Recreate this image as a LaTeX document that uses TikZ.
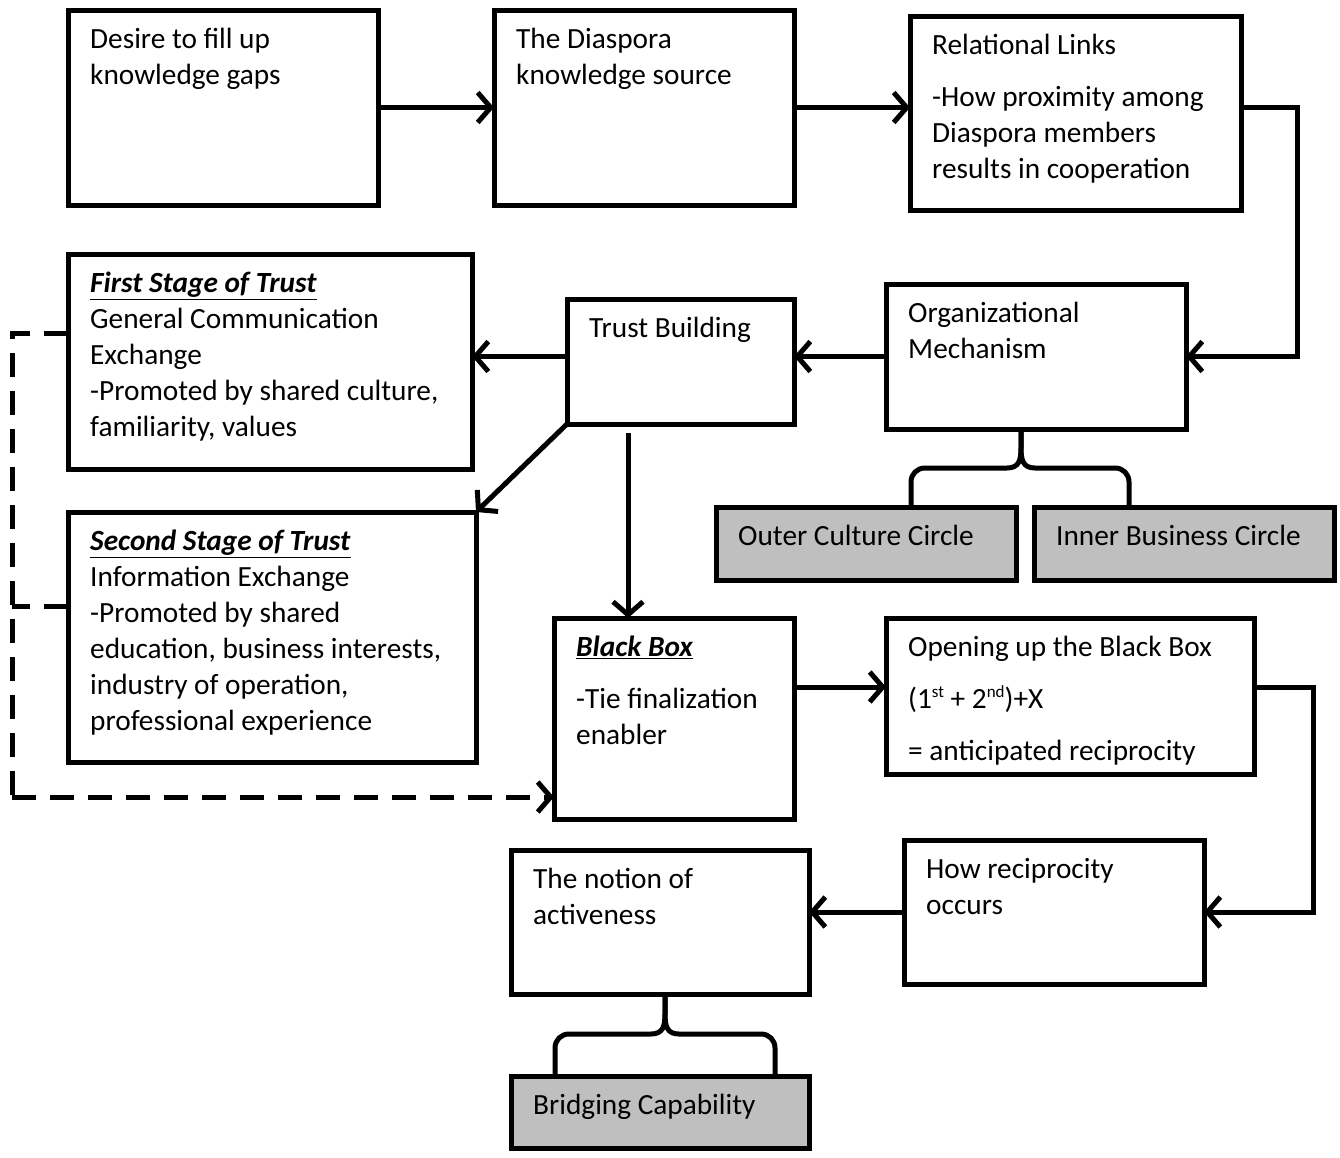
\documentclass[tikz,border=0pt]{standalone}
\usepackage{fontspec}
\setmainfont{Carlito}
\usetikzlibrary{arrows.meta,fit}
\definecolor{boxgray}{HTML}{BFBFBF}
% a framed box spanning two corner points
\newcommand\flowbox[6]{%
  \path (#2,#3) coordinate (#1-nw) (#4,#5) coordinate (#1-se);
  \node[#6, fit=(#1-nw)(#1-se)] (#1) {};}
% the text block sitting in the upper left of a box
\newcommand\boxtext[2]{%
  \node[txt] (#1-t) at ([shift={(22,13)}]#1.north west) {\strut #2};}
% small raised ordinal suffix
\newcommand\ordsup[1]{\raisebox{11pt}{\fontsize{17}{17}\selectfont #1}}
\begin{document}
\begin{tikzpicture}[x=1pt,y=-1pt,
  box/.style={draw, line width=5pt, inner sep=0pt, outer sep=0pt},
  greybox/.style={box, fill=boxgray},
  txt/.style={anchor=north west, inner sep=0pt, align=left, font=\fontsize{29.3}{36}\selectfont},
  tip/.style={-{Straight Barb[length=13pt,width=30pt]}},
  arr/.style={line width=5pt, tip},
  brace/.style={line width=5pt, line join=round},
  dashlink/.style={line width=5pt, dash pattern=on 24pt off 14pt}]
\useasboundingbox (0,0) rectangle (1340,1157);

% boxes
\flowbox{desire}{68}{10}{378}{205}{box}
\flowbox{source}{494}{10}{794}{205}{box}
\flowbox{links}{910}{16}{1241}{210}{box}
\flowbox{first}{68}{254}{472}{469}{box}
\flowbox{trust}{567}{299}{794}{424}{box}
\flowbox{org}{886}{284}{1186}{429}{box}
\flowbox{outer}{716}{507}{1016}{580}{greybox}
\flowbox{inner}{1034}{507}{1334}{580}{greybox}
\flowbox{second}{68}{512}{476}{762}{box}
\flowbox{black}{554}{618}{794}{819}{box}
\flowbox{open}{886}{618}{1254}{774}{box}
\flowbox{how}{904}{840}{1204}{984}{box}
\flowbox{notion}{511}{850}{809}{994}{box}
\flowbox{bridge}{511}{1076}{809}{1148}{greybox}

% texts
\boxtext{desire}{Desire to fill up\\knowledge gaps}
\boxtext{source}{The Diaspora\\knowledge source}
\boxtext{links}{Relational Links\\[16pt]-How proximity among\\Diaspora members\\results in cooperation}
\boxtext{first}{\underline{\textbf{\textit{First Stage of Trust}}}\\General Communication\\Exchange\\-Promoted by shared culture,\\familiarity, values}
\boxtext{trust}{Trust Building}
\boxtext{org}{Organizational\\Mechanism}
\boxtext{outer}{Outer Culture Circle}
\boxtext{inner}{Inner Business Circle}
\boxtext{second}{\underline{\textbf{\textit{Second Stage of Trust}}}\\Information Exchange\\-Promoted by shared\\education, business interests,\\industry of operation,\\professional experience}
\boxtext{black}{\underline{\textbf{\textit{Black Box}}}\\[16pt]-Tie finalization\\enabler}
\boxtext{open}{Opening up the Black Box\\[16pt](1\ordsup{st} + 2\ordsup{nd})+X\\[16pt]= anticipated reciprocity}
\boxtext{how}{How reciprocity\\occurs}
\boxtext{notion}{The notion of\\activeness}
\boxtext{bridge}{Bridging Capability}

% bend points of the connectors
\coordinate (r1) at (1297,107);
\coordinate (r2) at (1313,687);
\coordinate (tb) at (628,433);
\coordinate (d1) at (12,333);
\coordinate (d2) at (12,606);
\coordinate (d3) at (12,797);

% solid connectors
\draw[arr] (desire.east) -- (source.west);
\draw[arr] (source.east) -- (source.east -| links.west);
\draw[arr] (links.east |- r1) -- (r1) -- (r1 |- org.east) -- (org.east);
\draw[arr] (org.west) -- (org.west -| trust.east);
\draw[arr] (org.west -| trust.west) -- (org.west -| first.east);
\draw[arr] (trust.south west) -- (second.north east);
\draw[arr] (tb) -- (tb |- black.north);
\draw[arr] (black.east |- r2) -- (open.west |- r2);
\draw[arr] (open.east |- r2) -- (r2) -- (r2 |- how.east) -- (how.east);
\draw[arr] (how.west) -- (how.west -| notion.east);

% dashed feedback into the black box
\draw[dashlink] (first.west |- d1) -- (d1) -- (d3);
\draw[dashlink] (second.west |- d2) -- (d2);
\draw[dashlink, tip] (d3) -- (black.west |- d3);

% curly braces
\coordinate (b1) at ([xshift=-15pt]org.south);
\draw[brace] (b1) -- ++(0,19) .. controls +(0,12) and +(12,0) .. ++(-14,20) -- ++(-82,0)
  .. controls +(-8,0) and +(0,-8) .. ++(-14,14) -- ++(0,23);
\draw[brace] (b1) -- ++(0,19) .. controls +(0,12) and +(-12,0) .. ++(14,20) -- ++(80,0)
  .. controls +(8,0) and +(0,-8) .. ++(14,14) -- ++(0,23);
\coordinate (b2) at ([xshift=5pt]notion.south);
\draw[brace] (b2) -- ++(0,20) .. controls +(0,12) and +(12,0) .. ++(-14,20) -- ++(-82,0)
  .. controls +(-8,0) and +(0,-8) .. ++(-14,14) -- ++(0,26);
\draw[brace] (b2) -- ++(0,20) .. controls +(0,12) and +(-12,0) .. ++(14,20) -- ++(82,0)
  .. controls +(8,0) and +(0,-8) .. ++(14,14) -- ++(0,26);
\end{tikzpicture}
\end{document}
